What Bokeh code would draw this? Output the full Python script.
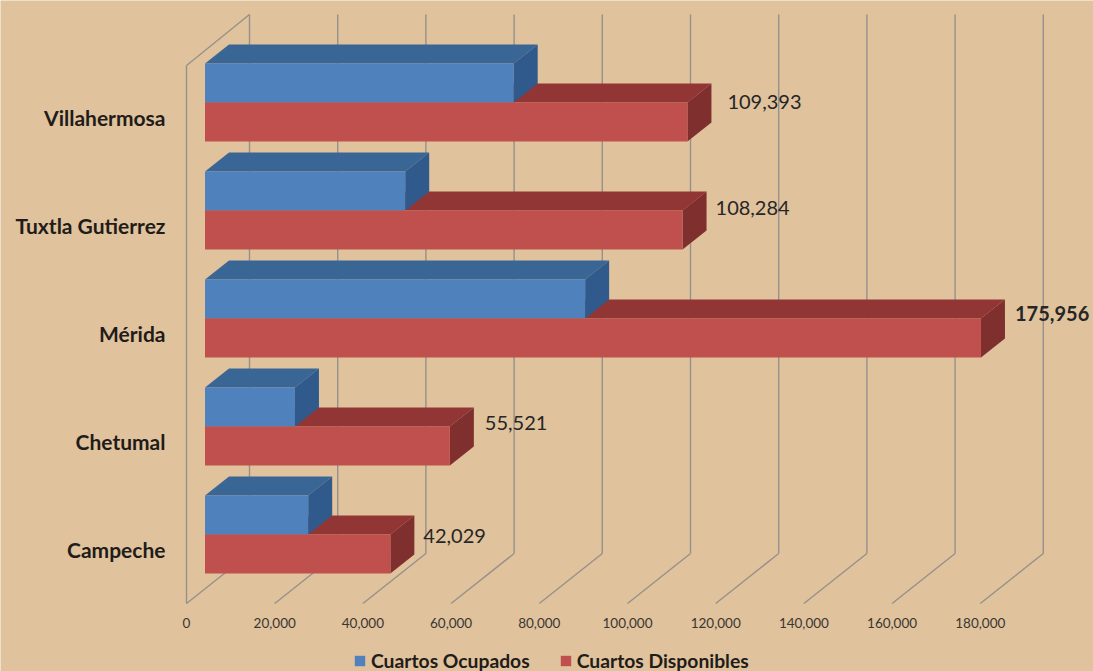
from bokeh.plotting import figure
from bokeh.models import Range1d, FixedTicker, NumeralTickFormatter, Legend, LegendItem, ColumnDataSource
from bokeh.core.properties import value
from bokeh.embed import file_html
from bokeh.resources import INLINE

# ---- data ----
cities = ["Campeche", "Chetumal", "Mérida", "Tuxtla Gutierrez", "Villahermosa"]
ocupados = [23400, 20400, 86200, 45400, 70000]
disponibles = [42029, 55521, 175956, 108284, 109393]
value_labels = ["42,029", "55,521", "175,956", "108,284", "109,393"]
x_ticks = [0, 20000, 40000, 60000, 80000, 100000, 120000, 140000, 160000, 180000]
series_names = ["Cuartos Ocupados", "Cuartos Disponibles"]

# ---- layout (pixels of the picture) ----
BG = "#E0C29C"
PX_PER_UNIT = 0.00441
ROW_PX = 108.0
LEFT, BOTTOM = 186, 603
WALL_TOP = 14
WIDTH, HEIGHT = 1093, 671
UX = 1 / PX_PER_UNIT      # data units per x pixel
UY = 1 / ROW_PX           # data units per y pixel
y0 = -0.5
y_wall_top = y0 + (BOTTOM - WALL_TOP) * UY
y_frame_top = y0 + BOTTOM * UY
y_frame_bottom = y0 - (HEIGHT - BOTTOM) * UY

p = figure(width=WIDTH, height=HEIGHT, output_backend="svg", toolbar_location=None,
           x_range=Range1d(-LEFT * UX, (WIDTH - LEFT) * UX),
           y_range=Range1d(y_frame_bottom, y_frame_top),
           min_border_left=0, min_border_right=0, min_border_top=0, min_border_bottom=0,
           background_fill_color=BG, border_fill_color=BG, outline_line_color=None)
p.grid.visible = False

WALL = "#96918A"
back_x, back_y = 63 * UX, 50 * UY
xs = x_ticks
# back wall verticals and floor diagonals
p.segment(x0=[v + back_x for v in xs], y0=[y0 + back_y] * len(xs),
          x1=[v + back_x for v in xs], y1=[y_wall_top] * len(xs), line_color=WALL, line_width=1.4)
p.segment(x0=xs, y0=[y0] * len(xs), x1=[v + back_x for v in xs], y1=[y0 + back_y] * len(xs),
          line_color=WALL, line_width=1.4)
# side wall top edge
y_side_top = y0 + 538 * UY
p.segment(x0=[0], y0=[y_side_top], x1=[back_x], y1=[y_wall_top], line_color=WALL, line_width=1.4)

# bars: front plane is displaced from the axis positions
FX, FY = 18.5 * UX, 15 * UY        # offset of bar fronts from the axis positions
DX, DY = 24 * UX, 19 * UY          # bar depth
H = 39 * UY                        # bar height


def faces(vals, top_offset):
    """Top and side parallelograms plus front edges for a series."""
    ys = [i + FY + top_offset for i in range(len(vals))]  # upper edge of the bar
    top_x = [[FX, FX + v, FX + v + DX, FX + DX] for v in vals]
    top_y = [[y, y, y + DY, y + DY] for y in ys]
    side_x = [[FX + v, FX + v + DX, FX + v + DX, FX + v] for v in vals]
    side_y = [[y, y + DY, y + DY - H, y - H] for y in ys]
    return ys, top_x, top_y, side_x, side_y


r_ys, r_tx, r_ty, r_sx, r_sy = faces(disponibles, 0)
b_ys, b_tx, b_ty, b_sx, b_sy = faces(ocupados, H)

p.patches(r_tx, r_ty, fill_color="#923635", line_color=None)
p.patches(r_sx, r_sy, fill_color="#7E2F2E", line_color=None)
p.patches(b_tx, b_ty, fill_color="#3A6696", line_color=None)
p.patches(b_sx, b_sy, fill_color="#305A8C", line_color=None)
blue = p.quad(left=[FX] * 5, right=[FX + v for v in ocupados], top=b_ys,
              bottom=[y - H for y in b_ys], fill_color="#4F81BD", line_color=None)
red = p.quad(left=[FX] * 5, right=[FX + v for v in disponibles], top=r_ys,
             bottom=[y - H for y in r_ys], fill_color="#C0504D", line_color=None)

# value labels
lab_dx = [9, 11, 10, 9, 16]
lab_dy = [1, -4, -5, -3, -1]
lab_src = ColumnDataSource(dict(
    x=[FX + v + DX for v in disponibles], y=[i + FY for i in range(5)],
    t=value_labels, dx=lab_dx, dy=lab_dy,
    w=["normal", "normal", "bold", "normal", "normal"]))
p.text(x="x", y="y", text="t", x_offset="dx", y_offset="dy", source=lab_src,
       text_font=value("Lato"), text_font_size="20px", text_color="#262626",
       text_font_style="w", text_baseline="middle", text_align="left")

# axes
p.xaxis.fixed_location = y0
p.xaxis.ticker = FixedTicker(ticks=x_ticks)
p.xaxis.formatter = NumeralTickFormatter(format="0,0")
p.xaxis.axis_line_color = None
p.xaxis.major_tick_line_color = None
p.xaxis.minor_tick_line_color = None
p.xaxis.major_label_text_font = "Lato"
p.xaxis.major_label_text_font_size = "13.5px"
p.xaxis.major_label_text_color = "#3A3632"
p.xaxis.major_label_standoff = 8

p.yaxis.fixed_location = 0
p.yaxis.ticker = FixedTicker(ticks=list(range(len(cities))))
p.yaxis.major_label_overrides = {i: c for i, c in enumerate(cities)}
p.yaxis.bounds = (y0, y_side_top)
p.yaxis.axis_line_color = WALL
p.yaxis.axis_line_width = 1.4
p.yaxis.major_tick_line_color = None
p.yaxis.minor_tick_line_color = None
p.yaxis.major_label_text_font = "Lato"
p.yaxis.major_label_text_font_style = "bold"
p.yaxis.major_label_text_font_size = "21px"
p.yaxis.major_label_text_color = "#1F1C1A"
p.yaxis.major_label_standoff = 15

legend = Legend(items=[LegendItem(label=series_names[0], renderers=[blue]),
                       LegendItem(label=series_names[1], renderers=[red])],
                orientation="horizontal", location=(353, -1), background_fill_alpha=0,
                border_line_color=None, glyph_width=13, glyph_height=13, spacing=29,
                label_standoff=5, margin=0, padding=2,
                label_text_font="Lato", label_text_font_style="bold",
                label_text_font_size="19.3px", label_text_color="#1F1C1A")
p.add_layout(legend, "center")

open("out.html", "w").write(file_html(p, INLINE))
